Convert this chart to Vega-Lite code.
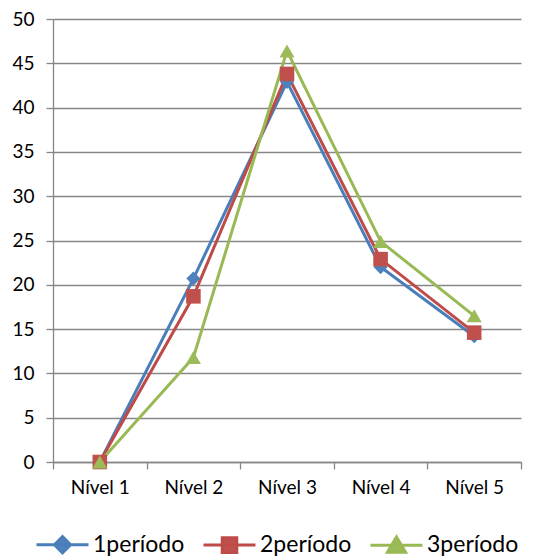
{
  "$schema": "https://vega.github.io/schema/vega-lite/v6.json",
  "width": 468,
  "height": 443,
  "autosize": {"type": "none"},
  "padding": {"left": 53, "top": 19, "right": 12, "bottom": 94},
  "background": "white",
  "config": {
    "view": {"stroke": null},
    "font": "Lato",
    "axis": {"labelFont": "Lato", "labelColor": "#000000", "labelFontSize": 19}
  },
  "data": {
    "values": [
      {"nivel": "Nível 1", "serie": "1período", "valor": 0},
      {"nivel": "Nível 2", "serie": "1período", "valor": 20.7},
      {"nivel": "Nível 3", "serie": "1período", "valor": 42.9},
      {"nivel": "Nível 4", "serie": "1período", "valor": 22.0},
      {"nivel": "Nível 5", "serie": "1período", "valor": 14.2},
      {"nivel": "Nível 1", "serie": "2período", "valor": 0},
      {"nivel": "Nível 2", "serie": "2período", "valor": 18.7},
      {"nivel": "Nível 3", "serie": "2período", "valor": 43.8},
      {"nivel": "Nível 4", "serie": "2período", "valor": 22.9},
      {"nivel": "Nível 5", "serie": "2período", "valor": 14.6},
      {"nivel": "Nível 1", "serie": "3período", "valor": 0},
      {"nivel": "Nível 2", "serie": "3período", "valor": 11.8},
      {"nivel": "Nível 3", "serie": "3período", "valor": 46.4},
      {"nivel": "Nível 4", "serie": "3período", "valor": 24.9},
      {"nivel": "Nível 5", "serie": "3período", "valor": 16.5}
    ]
  },
  "layer": [
    {
      "mark": {"type": "line", "strokeWidth": 3},
      "encoding": {
        "x": {
          "field": "nivel", "type": "nominal", "bandPosition": 0.5,
          "scale": {"type": "band", "paddingInner": 0, "paddingOuter": 0},
          "axis": {
            "title": null, "labelAngle": 0, "tickBand": "extent",
            "domainColor": "#868686", "domainWidth": 1.3,
            "tickColor": "#868686", "tickWidth": 1.3, "tickSize": 7,
            "labelPadding": 9, "grid": false
          }
        },
        "y": {
          "field": "valor", "type": "quantitative",
          "scale": {"domain": [0, 50], "nice": false},
          "axis": {
            "title": null, "values": [0, 5, 10, 15, 20, 25, 30, 35, 40, 45, 50],
            "grid": true, "gridColor": "#868686", "gridWidth": 1.3,
            "domainColor": "#868686", "domainWidth": 1.3,
            "tickColor": "#868686", "tickWidth": 1.3, "tickSize": 7,
            "labelPadding": 12
          }
        },
        "color": {
          "field": "serie", "type": "nominal", "legend": null,
          "scale": {"range": ["#4A7EBB", "#BE4B48", "#98B954"]}
        }
      }
    },
    {
      "mark": {"type": "point", "filled": true, "opacity": 1},
      "encoding": {
        "x": {"field": "nivel", "type": "nominal", "bandPosition": 0.5},
        "y": {"field": "valor", "type": "quantitative"},
        "color": {
          "field": "serie", "type": "nominal", "legend": null,
          "scale": {"range": ["#4F81BD", "#C0504D", "#9BBB59"]}
        },
        "shape": {
          "field": "serie", "type": "nominal", "legend": null,
          "scale": {"range": ["diamond", "square", "triangle-up"]}
        },
        "size": {
          "field": "serie", "type": "nominal", "legend": null,
          "scale": {"range": [200, 225, 310]}
        }
      }
    },
    {
      "mark": {"type": "point", "filled": true, "opacity": 0, "strokeWidth": 3},
      "encoding": {
        "x": {"field": "nivel", "type": "nominal", "bandPosition": 0.5},
        "y": {"field": "valor", "type": "quantitative"},
        "color": {
          "field": "serie", "type": "nominal",
          "scale": {"range": ["#4F81BD", "#C0504D", "#9BBB59"]},
          "legend": {
            "title": null, "orient": "none", "direction": "horizontal",
            "legendX": -18, "legendY": 498,
            "labelFont": "Lato", "labelFontSize": 23, "labelColor": "#000000",
            "labelOffset": 3, "columnPadding": 12,
            "symbolSize": 2704, "symbolStrokeWidth": 3, "symbolOpacity": 1,
            "encode": {"symbols": {"update": {"opacity": {"value": 1}}}}
          }
        },
        "stroke": {
          "field": "serie", "type": "nominal",
          "scale": {"range": ["#4A7EBB", "#BE4B48", "#98B954"]}
        },
        "shape": {
          "field": "serie", "type": "nominal",
          "scale": {"range": [
            "M-1,0H1M0,-0.31L0.31,0L0,0.31L-0.31,0Z",
            "M-1,0H1M-0.28,-0.28H0.28V0.28H-0.28Z",
            "M-1,0H1M0,-0.32L0.35,0.27H-0.35Z"
          ]}
        }
      }
    }
  ],
  "resolve": {"scale": {"color": "independent", "shape": "independent", "size": "independent", "stroke": "independent"}}
}
